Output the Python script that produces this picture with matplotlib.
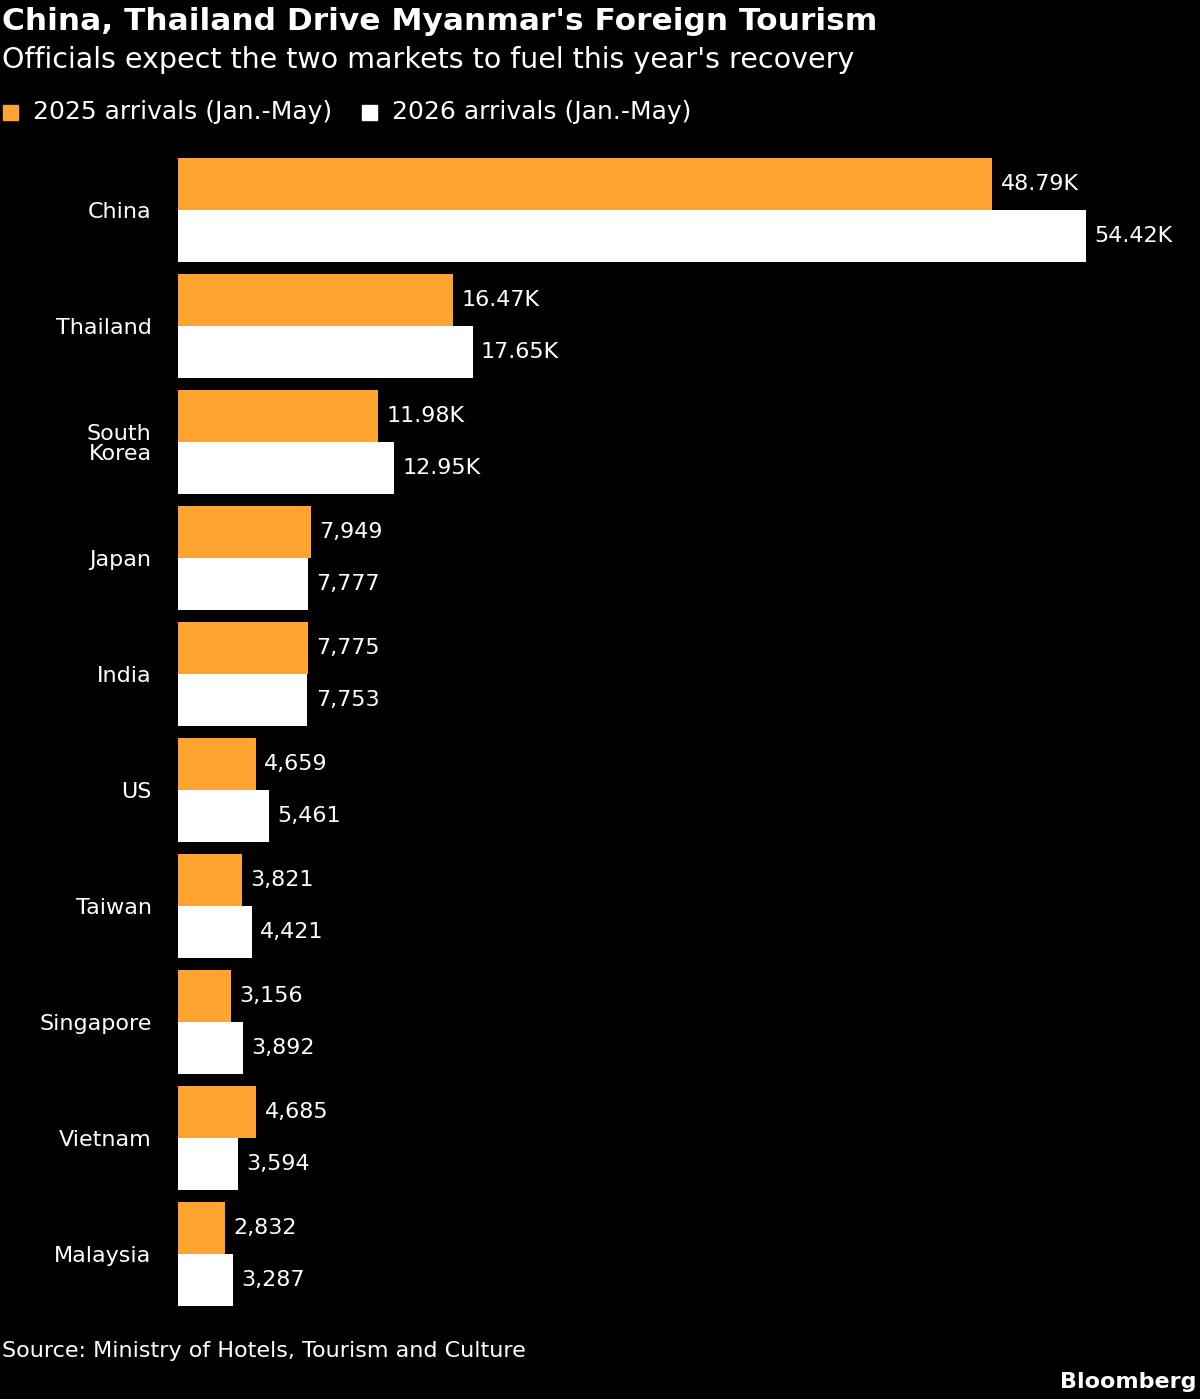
import matplotlib.pyplot as plt
from matplotlib.patches import Rectangle

plt.rcParams['font.family'] = ['Liberation Sans Narrow', 'DejaVu Sans']

countries = ['China', 'Thailand', 'South\nKorea', 'Japan', 'India', 'US',
             'Taiwan', 'Singapore', 'Vietnam', 'Malaysia']
arr_2025 = [48790, 16470, 11980, 7949, 7775, 4659, 3821, 3156, 4685, 2832]
arr_2026 = [54420, 17650, 12950, 7777, 7753, 5461, 4421, 3892, 3594, 3287]

orange = '#ffa431'

def fmt(v):
    if v >= 10000:
        return '%.2fK' % (v / 1000)
    return '{:,}'.format(v)

fig = plt.figure(figsize=(12, 13.99), dpi=100, facecolor='black')
ax = fig.add_axes([178 / 1200, 1 - 1312 / 1399, 1012 / 1200, 1160 / 1399])
ax.set_facecolor('black')

h = 52 / 116
y = list(range(len(countries)))
ax.barh([i - h / 2 for i in y], arr_2025, height=h, color=orange)
ax.barh([i + h / 2 for i in y], arr_2026, height=h, color='white')
for i in y:
    ax.text(arr_2025[i] + 500, i - h / 2, fmt(arr_2025[i]), color='white',
            fontsize=16, va='center')
    ax.text(arr_2026[i] + 500, i + h / 2, fmt(arr_2026[i]), color='white',
            fontsize=16, va='center')

ax.set_xlim(0, 60650)
ax.set_ylim(9.5, -0.5)
ax.set_yticks(y)
ax.set_yticklabels(countries, color='white', fontsize=16, linespacing=1.0)
ax.tick_params(axis='y', length=0, pad=19)
ax.set_xticks([])
for s in ax.spines.values():
    s.set_visible(False)

fig.text(0.002, 1 - 22 / 1399, "China, Thailand Drive Myanmar's Foreign Tourism",
         color='white', fontsize=22.5, fontweight='bold', va='center')
fig.text(0.002, 1 - 60 / 1399, "Officials expect the two markets to fuel this year's recovery",
         color='white', fontsize=20.5, va='center')

fig.patches.append(Rectangle((3 / 1200, 1 - 120 / 1399), 15 / 1200, 15 / 1399,
                             transform=fig.transFigure, color=orange))
fig.text(33 / 1200, 1 - 112 / 1399, '2025 arrivals (Jan.-May)', color='white',
         fontsize=18, va='center')
fig.patches.append(Rectangle((362 / 1200, 1 - 120 / 1399), 15 / 1200, 15 / 1399,
                             transform=fig.transFigure, color='white'))
fig.text(392 / 1200, 1 - 112 / 1399, '2026 arrivals (Jan.-May)', color='white',
         fontsize=18, va='center')

fig.text(0.002, 1 - 1351 / 1399, 'Source: Ministry of Hotels, Tourism and Culture',
         color='white', fontsize=16, va='center')
fig.text(0.997, 1 - 1382 / 1399, 'Bloomberg', color='white', fontsize=16,
         fontweight='bold', ha='right', va='center')

fig.savefig('out.png', dpi=100, facecolor='black')
